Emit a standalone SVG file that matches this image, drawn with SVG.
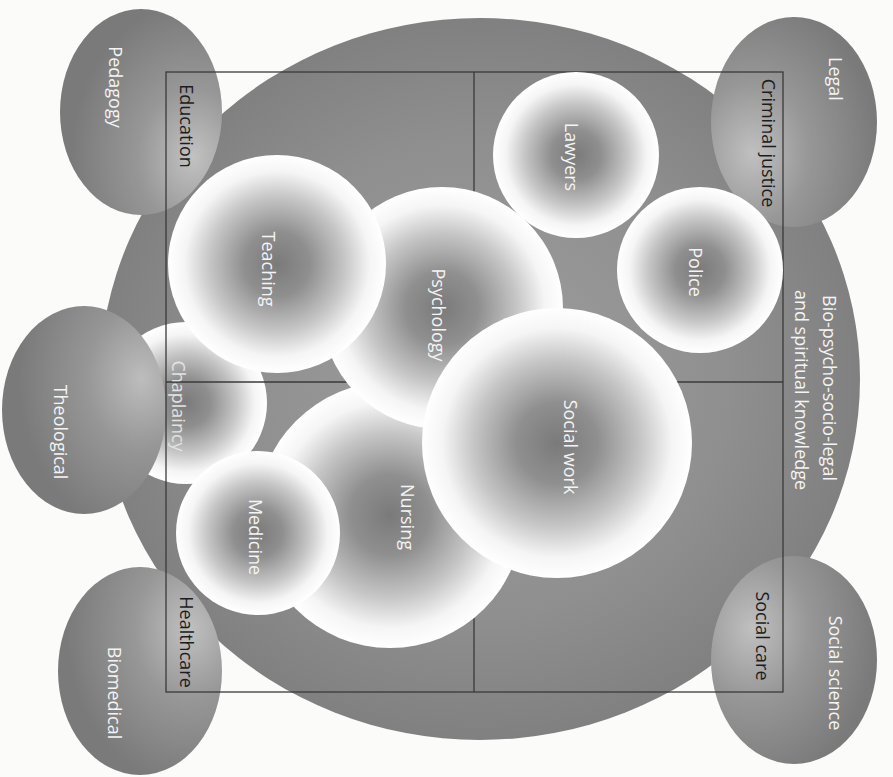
<svg xmlns="http://www.w3.org/2000/svg" width="893" height="777" viewBox="0 0 893 777">
<defs>
<radialGradient id="gBig" cx="50%" cy="50%" r="55%">
<stop offset="0" stop-color="#9e9e9e"/>
<stop offset="0.6" stop-color="#8f8f8f"/>
<stop offset="1" stop-color="#7c7c7c"/>
</radialGradient>
<radialGradient id="gBall" cx="50%" cy="50%" r="50%">
<stop offset="0" stop-color="#7a7a7a"/>
<stop offset="0.3" stop-color="#8f8f8f"/>
<stop offset="0.62" stop-color="#c6c6c6"/>
<stop offset="0.85" stop-color="#f5f5f5"/>
<stop offset="1" stop-color="#ffffff"/>
</radialGradient>
<radialGradient id="gPed" cx="0.82" cy="0.72" r="0.75">
<stop offset="0" stop-color="#c2c2c2"/>
<stop offset="0.45" stop-color="#979797"/>
<stop offset="1" stop-color="#7a7a7a"/>
</radialGradient>
<radialGradient id="gTheo" cx="0.85" cy="0.35" r="0.75">
<stop offset="0" stop-color="#bdbdbd"/>
<stop offset="0.45" stop-color="#969696"/>
<stop offset="1" stop-color="#7a7a7a"/>
</radialGradient>
<radialGradient id="gBio" cx="0.8" cy="0.3" r="0.75">
<stop offset="0" stop-color="#c0c0c0"/>
<stop offset="0.45" stop-color="#979797"/>
<stop offset="1" stop-color="#7a7a7a"/>
</radialGradient>
<radialGradient id="gLegal" cx="0.25" cy="0.65" r="0.75">
<stop offset="0" stop-color="#c0c0c0"/>
<stop offset="0.45" stop-color="#979797"/>
<stop offset="1" stop-color="#7a7a7a"/>
</radialGradient>
<radialGradient id="gSoc" cx="0.25" cy="0.35" r="0.75">
<stop offset="0" stop-color="#c0c0c0"/>
<stop offset="0.45" stop-color="#979797"/>
<stop offset="1" stop-color="#7a7a7a"/>
</radialGradient>
</defs>
<style>
text{font-family:"Open Sans","Liberation Sans",sans-serif;font-size:18px;text-anchor:middle}
.w{fill:#f4f4f4}
.k{fill:#1c1c1c}
.ball{fill:url(#gBall)}
.ln{fill:none;stroke:#3a3a3a;stroke-width:1.3}
</style>
<rect width="893" height="777" fill="#fbfbfa"/>
<g id="knowledge">
<ellipse cx="480" cy="379" rx="380" ry="361" fill="url(#gBig)"/>
</g>
<g id="chaplaincy">
<circle cx="186" cy="403" r="81" class="ball"/>
</g>
<g id="pedagogy">
<ellipse cx="141" cy="112" rx="81" ry="103" fill="url(#gPed)"/>
<text class="w" transform="translate(115,87) rotate(90)" dy="0.35em">Pedagogy</text>
</g>
<g id="legal">
<ellipse cx="794" cy="122" rx="83" ry="105" fill="url(#gLegal)"/>
<text class="w" transform="translate(835,79) rotate(90)" dy="0.35em">Legal</text>
</g>
<g id="theological">
<ellipse cx="84" cy="410" rx="82" ry="104" fill="url(#gTheo)"/>
<text class="w" transform="translate(60,432) rotate(90)" dy="0.35em">Theological</text>
</g>
<g id="biomedical">
<ellipse cx="140" cy="671" rx="82" ry="104" fill="url(#gBio)"/>
<text class="w" transform="translate(114,693) rotate(90)" dy="0.35em">Biomedical</text>
</g>
<g id="social-science">
<ellipse cx="794" cy="660" rx="83" ry="104" fill="url(#gSoc)"/>
<text class="w" transform="translate(835,673) rotate(90)" dy="0.35em">Social science</text>
</g>
<g id="connectors">
<rect x="166" y="72" width="617" height="620" class="ln"/>
<line x1="474" y1="72" x2="474" y2="692" class="ln"/>
<line x1="166" y1="382" x2="783" y2="382" class="ln"/>
</g>
<g id="chaplaincy-label">
<text fill="#e2e2e2" transform="translate(178,406) rotate(90)" dy="0.35em">Chaplaincy</text>
</g>
<g id="education"><text class="k" transform="translate(186,126) rotate(90)" dy="0.35em">Education</text></g>
<g id="criminal-justice"><text class="k" transform="translate(768,143) rotate(90)" dy="0.35em">Criminal justice</text></g>
<g id="healthcare"><text class="k" transform="translate(186,642) rotate(90)" dy="0.35em">Healthcare</text></g>
<g id="social-care"><text class="k" transform="translate(762,636) rotate(90)" dy="0.35em">Social care</text></g>
<g id="bio-label">
<text class="w" transform="translate(829,388) rotate(90)" dy="0.35em">Bio-psycho-socio-legal</text>
<text class="w" transform="translate(801,390) rotate(90)" dy="0.35em">and spiritual knowledge</text>
</g>
<g id="nursing">
<circle cx="390" cy="515" r="133" class="ball"/>
<text class="w" transform="translate(407,517) rotate(90)" dy="0.35em">Nursing</text>
</g>
<g id="medicine">
<circle cx="258" cy="533" r="82" class="ball"/>
<text class="w" transform="translate(255,537) rotate(90)" dy="0.35em">Medicine</text>
</g>
<g id="psychology">
<circle cx="442" cy="308" r="121" class="ball"/>
<text class="w" transform="translate(438,315) rotate(90)" dy="0.35em">Psychology</text>
</g>
<g id="teaching">
<circle cx="277" cy="264" r="109" class="ball"/>
<text class="w" transform="translate(268,269) rotate(90)" dy="0.35em">Teaching</text>
</g>
<g id="lawyers">
<circle cx="576" cy="155" r="83" class="ball"/>
<text class="w" transform="translate(571,157) rotate(90)" dy="0.35em">Lawyers</text>
</g>
<g id="police">
<circle cx="700" cy="270" r="83" class="ball"/>
<text class="w" transform="translate(695,272) rotate(90)" dy="0.35em">Police</text>
</g>
<g id="social-work">
<circle cx="557" cy="443" r="135" class="ball"/>
<text class="w" transform="translate(570,447) rotate(90)" dy="0.35em">Social work</text>
</g>
</svg>
